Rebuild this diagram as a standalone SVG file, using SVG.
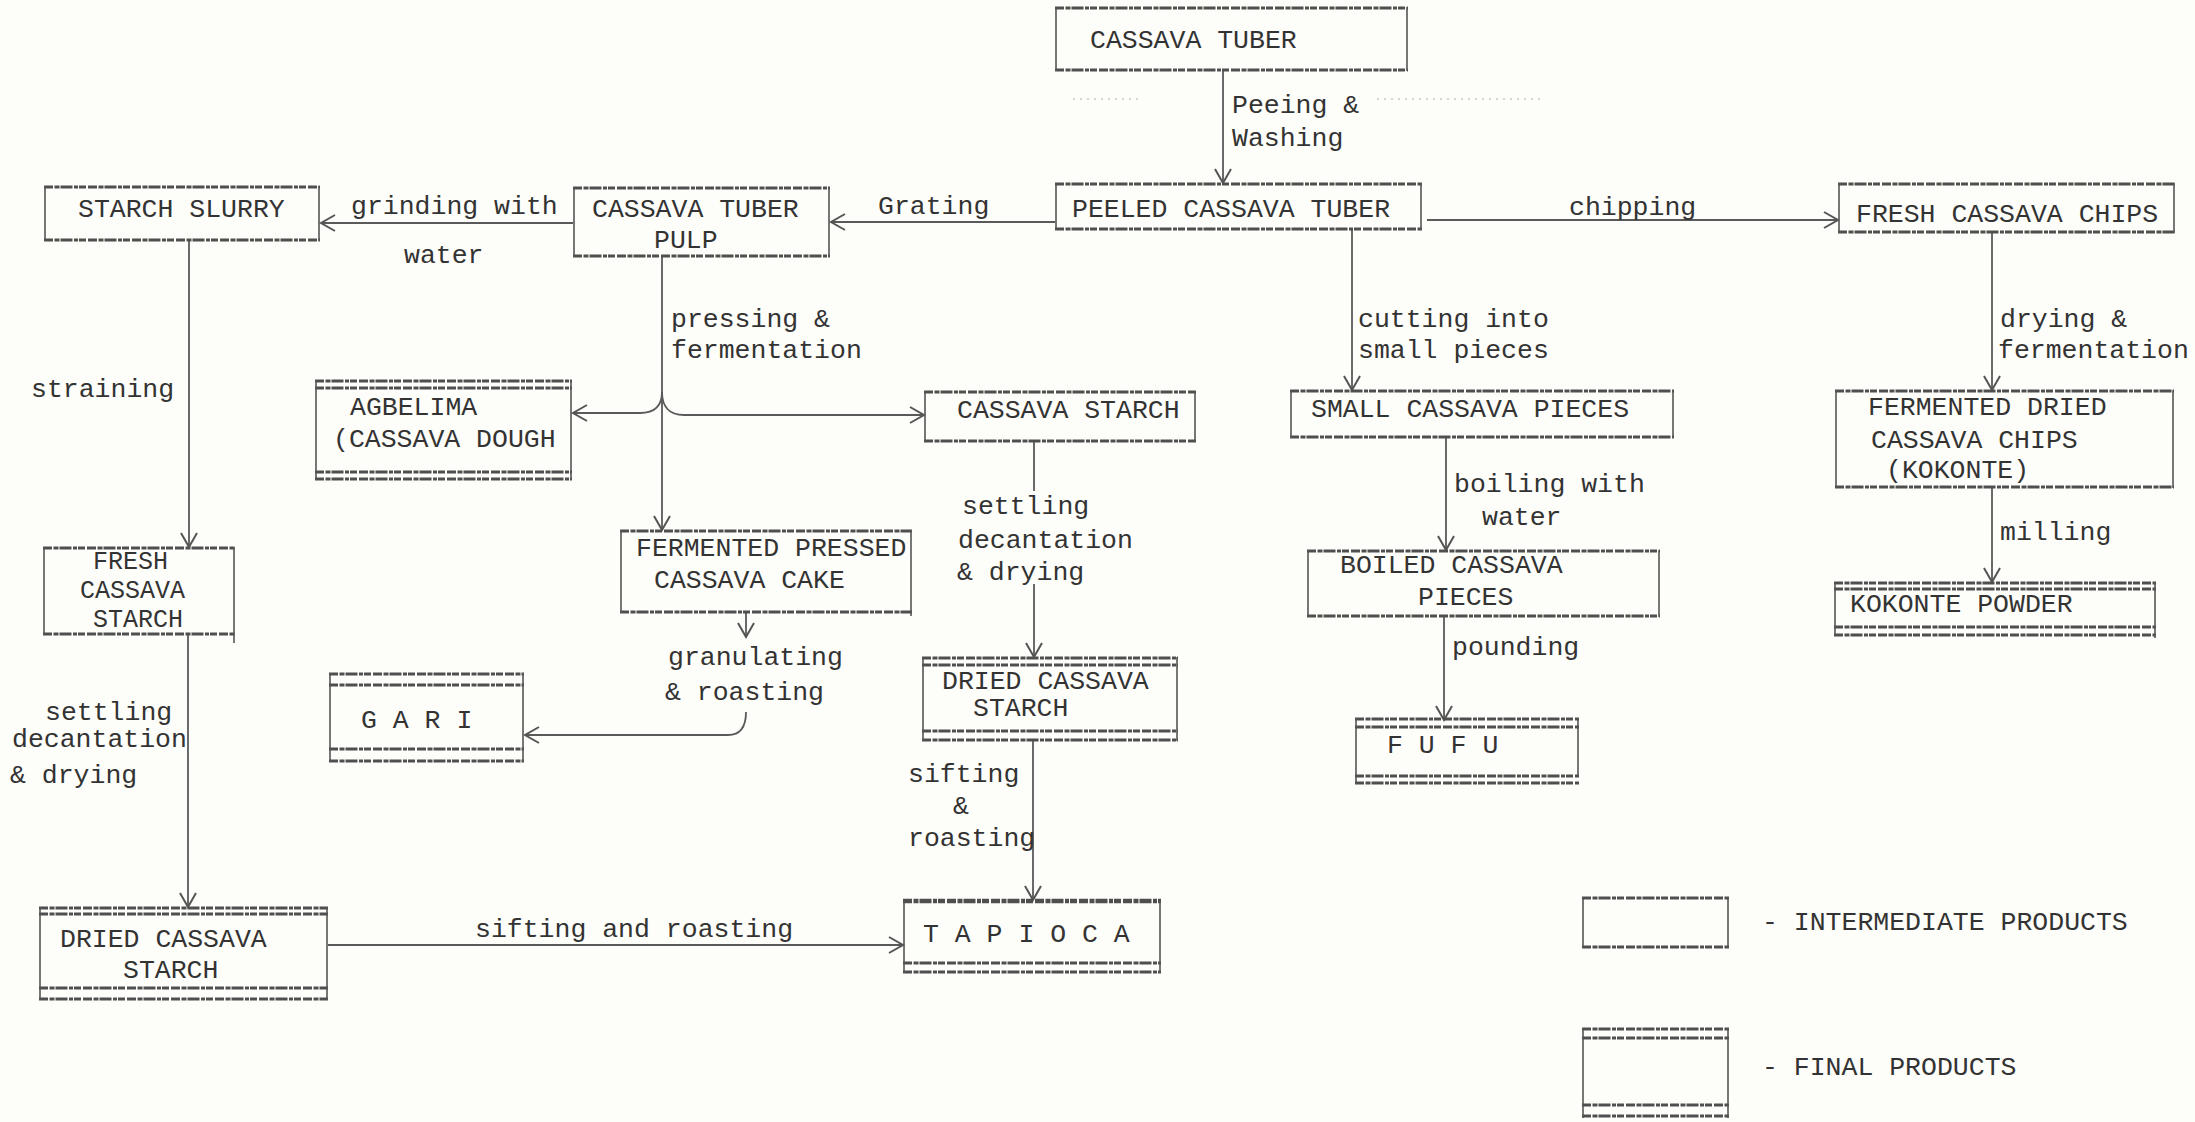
<svg xmlns="http://www.w3.org/2000/svg" width="2195" height="1122" viewBox="0 0 2195 1122">
  <style>
    .t { font-family: "Liberation Mono", "DejaVu Sans Mono", monospace; font-size: 26.5px; fill: #333; }
    .s { font-size: 25px; }
    .h { stroke: #4f4f4f; stroke-width: 3; stroke-dasharray: 9 1.5 5 1 12 1.5 4 1 7 2; fill: none; }
    .v { stroke: #555; stroke-width: 1.6; fill: none; }
    .c { stroke: #5a5a5a; stroke-width: 1.8; fill: none; }
    .a { marker-end: url(#ah); }
    .faint { stroke: #c8c8c8; stroke-width: 1.5; stroke-dasharray: 2 5; }
  </style>
  <defs>
    <marker id="ah" markerWidth="20" markerHeight="20" refX="15" refY="10" orient="auto" markerUnits="userSpaceOnUse">
      <path d="M1,2 L15,10 L1,18" fill="none" stroke="#555" stroke-width="2"/>
    </marker>
  </defs>

  <rect width="2195" height="1122" fill="#fdfdf9"/>

  <!-- faint marks beside the peeling step -->
  <line class="faint" x1="1073" y1="99" x2="1140" y2="99"/>
  <line class="faint" x1="1377" y1="99" x2="1540" y2="99"/>

  <!-- ===== connectors ===== -->
  <g id="connectors">
    <line class="c a" x1="1223" y1="71" x2="1223" y2="183"/>
    <line class="c a" x1="1055" y1="222" x2="831" y2="222"/>
    <line class="c a" x1="573" y1="223" x2="321" y2="223"/>
    <line class="c a" x1="1427" y1="220" x2="1838" y2="220"/>
    <line class="c a" x1="189" y1="241" x2="189" y2="547"/>
    <line class="c a" x1="188" y1="635" x2="188" y2="907"/>
    <line class="c a" x1="328" y1="945" x2="903" y2="945"/>
    <line class="c a" x1="662" y1="257" x2="662" y2="530"/>
    <path class="c a" d="M662,392 C662,405 656,413 640,413 L573,413"/>
    <path class="c a" d="M662,392 C662,405 668,415 684,415 L924,415"/>
    <line class="c" x1="1034" y1="442" x2="1034" y2="491"/>
    <line class="c a" x1="1034" y1="584" x2="1034" y2="657"/>
    <line class="c a" x1="1033" y1="741" x2="1033" y2="900"/>
    <line class="c a" x1="746" y1="612" x2="746" y2="637"/>
    <path class="c a" d="M746,712 C746,728 740,735 728,735 L525,735"/>
    <line class="c a" x1="1352" y1="230" x2="1352" y2="390"/>
    <line class="c a" x1="1446" y1="438" x2="1446" y2="550"/>
    <line class="c a" x1="1444" y1="617" x2="1444" y2="720"/>
    <line class="c a" x1="1992" y1="233" x2="1992" y2="390"/>
    <line class="c a" x1="1992" y1="488" x2="1992" y2="582"/>
  </g>

  <!-- ===== connector labels ===== -->
  <g id="labels" class="t">
    <text x="1232" y="113">Peeing &amp;</text>
    <text x="1232" y="146">Washing</text>
    <text x="878" y="214">Grating</text>
    <text x="351" y="214">grinding with</text>
    <text x="404" y="263">water</text>
    <text x="1569" y="215">chipping</text>
    <text x="31" y="397">straining</text>
    <text x="671" y="327">pressing &amp;</text>
    <text x="671" y="358">fermentation</text>
    <text x="1358" y="327">cutting into</text>
    <text x="1358" y="358">small pieces</text>
    <text x="2000" y="327">drying &amp;</text>
    <text x="1998" y="358">fermentation</text>
    <text x="962" y="514">settling</text>
    <text x="958" y="548">decantation</text>
    <text x="957" y="580">&amp; drying</text>
    <text x="1454" y="492">boiling with</text>
    <text x="1482" y="525">water</text>
    <text x="2000" y="540">milling</text>
    <text x="1452" y="655">pounding</text>
    <text x="668" y="665">granulating</text>
    <text x="665" y="700">&amp; roasting</text>
    <text x="45" y="720">settling</text>
    <text x="12" y="747">decantation</text>
    <text x="10" y="783">&amp; drying</text>
    <text x="908" y="782">sifting</text>
    <text x="953" y="814">&amp;</text>
    <text x="908" y="846">roasting</text>
    <text x="475" y="937">sifting and roasting</text>
  </g>

  <!-- ===== intermediate products ===== -->
  <g id="n-cassava-tuber">
    <line class="h" x1="1055" y1="8" x2="1408" y2="8"/>
    <line class="h" x1="1055" y1="70" x2="1408" y2="70"/>
    <line class="v" x1="1056" y1="7" x2="1056" y2="71"/>
    <line class="v" x1="1407" y1="7" x2="1407" y2="71"/>
    <text class="t" x="1090" y="48">CASSAVA TUBER</text>
  </g>

  <g id="n-peeled-tuber">
    <line class="h" x1="1055" y1="184" x2="1422" y2="184"/>
    <line class="h" x1="1055" y1="229" x2="1422" y2="229"/>
    <line class="v" x1="1056" y1="183" x2="1056" y2="230"/>
    <line class="v" x1="1421" y1="183" x2="1421" y2="230"/>
    <text class="t" x="1072" y="217">PEELED CASSAVA TUBER</text>
  </g>

  <g id="n-tuber-pulp">
    <line class="h" x1="573" y1="188" x2="830" y2="188"/>
    <line class="h" x1="573" y1="256" x2="830" y2="256"/>
    <line class="v" x1="574" y1="187" x2="574" y2="257"/>
    <line class="v" x1="829" y1="187" x2="829" y2="257"/>
    <text class="t" x="592" y="217">CASSAVA TUBER</text>
    <text class="t" x="654" y="248">PULP</text>
  </g>

  <g id="n-starch-slurry">
    <line class="h" x1="44" y1="187" x2="320" y2="187"/>
    <line class="h" x1="44" y1="240" x2="320" y2="240"/>
    <line class="v" x1="45" y1="186" x2="45" y2="241"/>
    <line class="v" x1="319" y1="186" x2="319" y2="241"/>
    <text class="t" x="78" y="217">STARCH SLURRY</text>
  </g>

  <g id="n-fresh-chips">
    <line class="h" x1="1838" y1="184" x2="2175" y2="184"/>
    <line class="h" x1="1838" y1="232" x2="2175" y2="232"/>
    <line class="v" x1="1839" y1="183" x2="1839" y2="233"/>
    <line class="v" x1="2174" y1="183" x2="2174" y2="233"/>
    <text class="t" x="1856" y="222">FRESH CASSAVA CHIPS</text>
  </g>

  <g id="n-cassava-starch">
    <line class="h" x1="924" y1="392" x2="1196" y2="392"/>
    <line class="h" x1="924" y1="441" x2="1196" y2="441"/>
    <line class="v" x1="925" y1="391" x2="925" y2="442"/>
    <line class="v" x1="1195" y1="391" x2="1195" y2="442"/>
    <text class="t" x="957" y="418">CASSAVA STARCH</text>
  </g>

  <g id="n-small-pieces">
    <line class="h" x1="1290" y1="391" x2="1674" y2="391"/>
    <line class="h" x1="1290" y1="437" x2="1674" y2="437"/>
    <line class="v" x1="1291" y1="390" x2="1291" y2="438"/>
    <line class="v" x1="1673" y1="390" x2="1673" y2="438"/>
    <text class="t" x="1311" y="417">SMALL CASSAVA PIECES</text>
  </g>

  <g id="n-fermented-chips">
    <line class="h" x1="1835" y1="391" x2="2174" y2="391"/>
    <line class="h" x1="1835" y1="487" x2="2174" y2="487"/>
    <line class="v" x1="1836" y1="390" x2="1836" y2="488"/>
    <line class="v" x1="2173" y1="390" x2="2173" y2="488"/>
    <text class="t" x="1868" y="415">FERMENTED DRIED</text>
    <text class="t" x="1871" y="448">CASSAVA CHIPS</text>
    <text class="t" x="1886" y="478">(KOKONTE)</text>
  </g>

  <g id="n-fresh-starch">
    <line class="h" x1="43" y1="548" x2="235" y2="548"/>
    <line class="h" x1="43" y1="634" x2="235" y2="634"/>
    <line class="v" x1="44" y1="547" x2="44" y2="635"/>
    <line class="v" x1="234" y1="547" x2="234" y2="643"/>
    <text class="t s" x="93" y="569">FRESH</text>
    <text class="t s" x="80" y="598">CASSAVA</text>
    <text class="t s" x="93" y="627">STARCH</text>
  </g>

  <g id="n-pressed-cake">
    <line class="h" x1="620" y1="531" x2="912" y2="531"/>
    <line class="h" x1="620" y1="612" x2="912" y2="612"/>
    <line class="v" x1="621" y1="530" x2="621" y2="613"/>
    <line class="v" x1="911" y1="530" x2="911" y2="616"/>
    <text class="t" x="636" y="556">FERMENTED PRESSED</text>
    <text class="t" x="654" y="588">CASSAVA CAKE</text>
  </g>

  <g id="n-boiled-pieces">
    <line class="h" x1="1307" y1="551" x2="1660" y2="551"/>
    <line class="h" x1="1307" y1="616" x2="1660" y2="616"/>
    <line class="v" x1="1308" y1="550" x2="1308" y2="617"/>
    <line class="v" x1="1659" y1="550" x2="1659" y2="617"/>
    <text class="t" x="1340" y="573">BOILED CASSAVA</text>
    <text class="t" x="1418" y="605">PIECES</text>
  </g>

  <!-- ===== final products (double rule top and bottom) ===== -->
  <g id="n-agbelima">
    <line class="h" x1="315" y1="381" x2="572" y2="381"/>
    <line class="h" x1="315" y1="388" x2="572" y2="388"/>
    <line class="h" x1="315" y1="472" x2="572" y2="472"/>
    <line class="h" x1="315" y1="479" x2="572" y2="479"/>
    <line class="v" x1="316" y1="380" x2="316" y2="480"/>
    <line class="v" x1="571" y1="380" x2="571" y2="480"/>
    <text class="t" x="350" y="415">AGBELIMA</text>
    <text class="t" x="333" y="447">(CASSAVA DOUGH</text>
  </g>

  <g id="n-gari">
    <line class="h" x1="329" y1="674" x2="524" y2="674"/>
    <line class="h" x1="329" y1="685" x2="524" y2="685"/>
    <line class="h" x1="329" y1="749" x2="524" y2="749"/>
    <line class="h" x1="329" y1="761" x2="524" y2="761"/>
    <line class="v" x1="330" y1="673" x2="330" y2="762"/>
    <line class="v" x1="523" y1="673" x2="523" y2="762"/>
    <text class="t" x="361" y="728">G A R I</text>
  </g>

  <g id="n-dried-starch-mid">
    <line class="h" x1="922" y1="658" x2="1178" y2="658"/>
    <line class="h" x1="922" y1="665" x2="1178" y2="665"/>
    <line class="h" x1="922" y1="731" x2="1178" y2="731"/>
    <line class="h" x1="922" y1="740" x2="1178" y2="740"/>
    <line class="v" x1="923" y1="657" x2="923" y2="741"/>
    <line class="v" x1="1177" y1="657" x2="1177" y2="741"/>
    <text class="t" x="942" y="689">DRIED CASSAVA</text>
    <text class="t" x="973" y="716">STARCH</text>
  </g>

  <g id="n-kokonte-powder">
    <line class="h" x1="1834" y1="583" x2="2156" y2="583"/>
    <line class="h" x1="1834" y1="589" x2="2156" y2="589"/>
    <line class="h" x1="1834" y1="627" x2="2156" y2="627"/>
    <line class="h" x1="1834" y1="635" x2="2156" y2="635"/>
    <line class="v" x1="1835" y1="582" x2="1835" y2="636"/>
    <line class="v" x1="2155" y1="582" x2="2155" y2="638"/>
    <text class="t" x="1850" y="612">KOKONTE POWDER</text>
  </g>

  <g id="n-fufu">
    <line class="h" x1="1355" y1="719" x2="1579" y2="719"/>
    <line class="h" x1="1355" y1="727" x2="1579" y2="727"/>
    <line class="h" x1="1355" y1="776" x2="1579" y2="776"/>
    <line class="h" x1="1355" y1="783" x2="1579" y2="783"/>
    <line class="v" x1="1356" y1="718" x2="1356" y2="784"/>
    <line class="v" x1="1578" y1="718" x2="1578" y2="777"/>
    <text class="t" x="1387" y="753">F U F U</text>
  </g>

  <g id="n-dried-starch-left">
    <line class="h" x1="39" y1="908" x2="328" y2="908"/>
    <line class="h" x1="39" y1="914" x2="328" y2="914"/>
    <line class="h" x1="39" y1="988" x2="328" y2="988"/>
    <line class="h" x1="39" y1="999" x2="328" y2="999"/>
    <line class="v" x1="40" y1="907" x2="40" y2="1000"/>
    <line class="v" x1="327" y1="907" x2="327" y2="1000"/>
    <text class="t" x="60" y="947">DRIED CASSAVA</text>
    <text class="t" x="123" y="978">STARCH</text>
  </g>

  <g id="n-tapioca">
    <line class="h" x1="903" y1="901" x2="1161" y2="901" style="stroke-width:4.5"/>
    <line class="h" x1="903" y1="963" x2="1161" y2="963"/>
    <line class="h" x1="903" y1="972" x2="1161" y2="972"/>
    <line class="v" x1="904" y1="900" x2="904" y2="973"/>
    <line class="v" x1="1160" y1="900" x2="1160" y2="973"/>
    <text class="t" x="923" y="942">T A P I O C A</text>
  </g>

  <!-- ===== key ===== -->
  <g id="legend-intermediate">
    <line class="h" x1="1582" y1="898" x2="1729" y2="898"/>
    <line class="h" x1="1582" y1="947" x2="1729" y2="947"/>
    <line class="v" x1="1583" y1="897" x2="1583" y2="948"/>
    <line class="v" x1="1728" y1="897" x2="1728" y2="948"/>
    <text class="t" x="1762" y="930">- INTERMEDIATE PRODUCTS</text>
  </g>

  <g id="legend-final">
    <line class="h" x1="1582" y1="1029" x2="1729" y2="1029"/>
    <line class="h" x1="1582" y1="1038" x2="1729" y2="1038"/>
    <line class="h" x1="1582" y1="1105" x2="1729" y2="1105"/>
    <line class="h" x1="1582" y1="1116" x2="1729" y2="1116"/>
    <line class="v" x1="1583" y1="1028" x2="1583" y2="1118"/>
    <line class="v" x1="1728" y1="1028" x2="1728" y2="1118"/>
    <text class="t" x="1762" y="1075">- FINAL PRODUCTS</text>
  </g>
</svg>
